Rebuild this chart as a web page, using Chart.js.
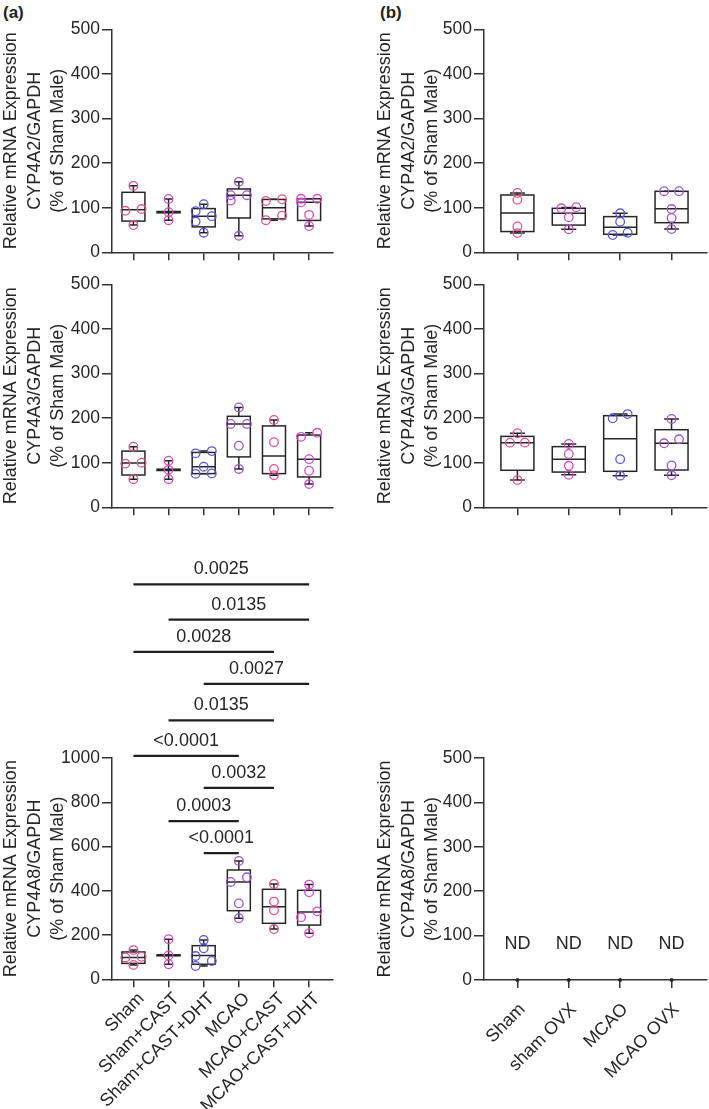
<!DOCTYPE html>
<html>
<head>
<meta charset="utf-8">
<script src="https://cdn.jsdelivr.net/npm/chart.js@4.4.0/dist/chart.umd.min.js"></script>
<style>
  body { margin: 0; background: #fff; width: 709px; height: 1109px; position: relative; overflow: hidden; font-family: 'Liberation Sans', Arial, sans-serif; }
  .panel { position: absolute; }
  .tag { position: absolute; font-weight: bold; font-size: 17px; color: #222; }
</style>
</head>
<body>
<div class="tag" style="left:3px;top:3px">(a)</div>
<div class="tag" style="left:380px;top:3px">(b)</div>

<canvas class="panel" id="a1" width="340" height="270" style="left:0;top:0"></canvas>
<canvas class="panel" id="a2" width="340" height="262" style="left:0;top:262px"></canvas>
<canvas class="panel" id="a3" width="340" height="569" style="left:0;top:540px"></canvas>
<canvas class="panel" id="b1" width="335" height="270" style="left:374px;top:0"></canvas>
<canvas class="panel" id="b2" width="335" height="262" style="left:374px;top:262px"></canvas>
<canvas class="panel" id="b3" width="335" height="569" style="left:374px;top:540px"></canvas>

<script>
// Groups and axis ticks
const groupsA = ['Sham', 'Sham+CAST', 'Sham+CAST+DHT', 'MCAO', 'MCAO+CAST', 'MCAO+CAST+DHT'];
const groupsB = ['Sham', 'sham OVX', 'MCAO', 'MCAO OVX'];
const ticks500 = [0, 100, 200, 300, 400, 500];
const ticks1000 = [0, 200, 400, 600, 800, 1000];

const colorsA = ['#e4508f', '#d24bc4', '#5656dc', '#a052d2', '#e4508f', '#d44ccc'];
const colorsB = ['#e4508f', '#d24bc4', '#5656dc', '#a052d2'];

// Box values per group: [min, q1, median, q3, max]
const a1Boxes = [[61, 70, 95.5, 134.5, 149], [72, 88.5, 90, 91.5, 119.5], [44, 57, 81, 98, 108],
                 [37, 77, 128, 142, 158], [72, 75, 100, 118.5, 119], [59, 71.5, 112, 120, 120]];
const a1Points = [[149, 97, 93, 61], [119.5, 90, 72], [108, 92, 81, 69, 44],
                  [158, 128, 128, 116, 37], [119, 115, 82, 72], [120, 120, 112, 84, 59]];

const a2Boxes = [[63, 72.4, 99.3, 126, 136], [63, 82.5, 84, 85.5, 104.5], [75, 75.5, 91, 123, 126],
                 [86, 113, 187, 204, 224], [72, 75.5, 115, 182.5, 196], [52, 68, 108, 162, 167]];
const a2Points = [[136, 100, 98, 63], [104.5, 84, 63], [126, 121, 91, 76, 75],
                  [224, 187, 187, 138, 86], [196, 146, 86, 72], [167, 158, 108, 82, 52]];

const a3Boxes = [[65, 72, 99, 123.5, 132], [68, 106, 108.5, 111, 181], [60, 68, 107, 152, 178],
                 [276, 310, 440, 494, 535], [227, 253, 328, 406.7, 431], [208, 245, 304, 402, 428]];
const a3Points = [[132, 102, 99, 65], [181, 108, 68], [178, 140, 105, 83, 60],
                  [535, 461, 440, 343, 276], [431, 351, 312, 227], [428, 393, 307, 280, 208]];

const b1Boxes = [[43, 46.5, 88, 128.5, 133], [51.5, 61, 87.4, 98.6, 100.5], [38.8, 40.4, 56, 80, 87.4], [52, 66.4, 97.8, 136.7, 137]];
const b1Points = [[133, 118, 58, 43], [101, 98.6, 78.5, 51.5], [87.4, 68.6, 44, 38.8], [137, 137, 97, 77, 52]];

const b2Boxes = [[61, 83, 145, 159, 166], [73, 79, 107.6, 136, 142], [71, 80.7, 153.8, 205.4, 209], [71.7, 83.6, 143.5, 174, 198]];
const b2Points = [[166, 145, 145, 61], [142, 119.5, 93, 73], [209, 199.5, 108, 71], [198, 152.5, 143.5, 94, 71.7]];

const b3Zero = [0, 0, 0, 0];
const b3Labels = ['ND', 'ND', 'ND', 'ND'];

// Significance bars of the CYP4A8 panel
const sigPairs = [[0, 5], [1, 5], [0, 4], [2, 5], [1, 4], [0, 3], [2, 4], [1, 3], [2, 3]];
const sigLabels = ['0.0025', '0.0135', '0.0028', '0.0027', '0.0135', '<0.0001', '0.0032', '0.0003', '<0.0001'];
const sigLevels = [1785, 1625, 1480, 1335, 1170, 1010, 865, 715, 570];

const FONT = "'Liberation Sans', Arial, sans-serif";
const INK = '#262626';
Chart.defaults.font.family = FONT;
Chart.defaults.color = INK;

// spread overlapping points sideways, like Prism does
function spread(values, index, near, step) {
    const placed = [];
    values.slice().sort((p, q) => p - q).forEach(v => {
        const prev = placed[placed.length - 1];
        let side = 0;
        if (prev && v - prev.y < near) {
            if (prev.side === 0) prev.side = -1;
            side = -prev.side;
        }
        placed.push({ y: v, side: side });
    });
    return placed.map(p => ({ x: index + p.side * step, y: p.y }));
}

const boxPlot = {
    id: 'boxPlot',
    beforeDatasetsDraw(chart, args, opts) {
        const ctx = chart.ctx, x = chart.scales.x, y = chart.scales.y;
        ctx.save();
        ctx.strokeStyle = INK;
        ctx.lineWidth = 1.5;
        (opts.boxes || []).forEach((b, i) => {
            const cx = x.getPixelForValue(i);
            const [lo, q1, med, q3, hi] = b.map(v => y.getPixelForValue(v));
            const w = opts.half, c = opts.cap;
            ctx.strokeRect(cx - w, q3, 2 * w, q1 - q3);
            ctx.beginPath();
            ctx.moveTo(cx - w, med); ctx.lineTo(cx + w, med);
            ctx.moveTo(cx, q3); ctx.lineTo(cx, hi);
            ctx.moveTo(cx - c, hi); ctx.lineTo(cx + c, hi);
            ctx.moveTo(cx, q1); ctx.lineTo(cx, lo);
            ctx.moveTo(cx - c, lo); ctx.lineTo(cx + c, lo);
            ctx.stroke();
        });
        ctx.restore();
    }
};

const notes = {
    id: 'notes',
    afterDraw(chart, args, opts) {
        const ctx = chart.ctx, x = chart.scales.x, y = chart.scales.y;
        ctx.save();
        ctx.fillStyle = INK;
        ctx.strokeStyle = '#1e1e1e';
        ctx.font = '18px ' + FONT;
        ctx.textAlign = 'center';
        (opts.pairs || []).forEach((pr, k) => {
            const x1 = x.getPixelForValue(pr[0]), x2 = x.getPixelForValue(pr[1]);
            const yy = y.getPixelForValue(opts.levels[k]);
            ctx.lineWidth = 2.3;
            ctx.beginPath();
            ctx.moveTo(x1, yy); ctx.lineTo(x2, yy);
            ctx.stroke();
            ctx.textBaseline = 'alphabetic';
            ctx.fillText(opts.labels[k], (x1 + x2) / 2, yy - 10);
        });
        ctx.font = '18px ' + FONT;
        ctx.textBaseline = 'middle';
        (opts.nd || []).forEach((t, i) => {
            ctx.fillText(t, x.getPixelForValue(i), y.getPixelForValue(opts.ndAt));
        });
        ctx.restore();
    }
};

function makePanel(id, o) {
    const datasets = o.points.map((vals, i) => ({
        data: spread(vals, i, o.near, o.step),
        pointRadius: 4.3,
        pointHoverRadius: 4.3,
        pointBorderWidth: 1.3,
        pointBorderColor: o.colors[i],
        pointBackgroundColor: 'rgba(0,0,0,0)'
    }));
    if (o.zero) {
        datasets.push({
            data: o.zero.map((v, i) => ({ x: i, y: v })),
            pointRadius: 1.6,
            pointBackgroundColor: INK,
            pointBorderColor: INK,
            clip: false
        });
    }
    new Chart(document.getElementById(id), {
        type: 'scatter',
        data: { datasets: datasets },
        plugins: [boxPlot, notes],
        options: {
            responsive: false,
            animation: false,
            layout: { autoPadding: false, padding: { top: o.top, right: o.right, left: 0, bottom: 0 } },
            plugins: {
                legend: { display: false },
                tooltip: { enabled: false },
                boxPlot: { boxes: o.boxes, half: o.half, cap: o.cap },
                notes: o.notes || {}
            },
            scales: {
                x: {
                    type: 'linear',
                    min: o.xMin,
                    max: o.xMax,
                    afterBuildTicks: s => { s.ticks = o.groups.map((g, i) => ({ value: i })); },
                    afterFit: s => { s.height = o.xHeight; s.paddingLeft = 0; s.paddingRight = 0; },
                    border: { color: '#333', width: 1.5 },
                    grid: { drawOnChartArea: false, tickLength: 8, color: '#333', lineWidth: 1.5 },
                    ticks: {
                        display: o.showLabels,
                        callback: v => o.groups[v],
                        autoSkip: false,
                        minRotation: 45,
                        maxRotation: 45,
                        padding: o.labelGap || 2,
                        labelOffset: o.labelShift || 0,
                        color: INK,
                        font: { size: 18 }
                    }
                },
                y: {
                    min: 0,
                    max: o.yTicks[o.yTicks.length - 1],
                    afterBuildTicks: s => { s.ticks = o.yTicks.map(v => ({ value: v })); },
                    afterFit: s => { s.width = o.axisLeft; s.paddingTop = 0; s.paddingBottom = 0; },
                    border: { color: '#333', width: 1.5 },
                    grid: { drawOnChartArea: false, tickLength: 10, color: '#333', lineWidth: 1.5 },
                    ticks: { padding: 2, color: INK, font: { size: 17.5 }, callback: v => String(v) },
                    title: {
                        display: true,
                        text: ['Relative mRNA Expression', o.gene + '/GAPDH', '(% of Sham Male)'],
                        color: INK,
                        padding: { top: 0, bottom: 0 },
                        font: { size: 18, lineHeight: 1.28 }
                    }
                }
            }
        }
    });
}

const panelA = { groups: groupsA, colors: colorsA, xMin: -0.61, xMax: 5.68, axisLeft: 112, right: 7, step: 0.23, half: 11.5, cap: 4 };
const panelB = { groups: groupsB, colors: colorsB, xMin: -0.65, xMax: 3.69, axisLeft: 110, right: 2, step: 0.145, half: 16.5, cap: 7.5 };

makePanel('a1', Object.assign({}, panelA, { gene: 'CYP4A2', boxes: a1Boxes, points: a1Points, yTicks: ticks500,
    top: 29.3, xHeight: 17.7, showLabels: false, near: 14 }));
makePanel('a2', Object.assign({}, panelA, { gene: 'CYP4A3', boxes: a2Boxes, points: a2Points, yTicks: ticks500,
    top: 22.3, xHeight: 16.7, showLabels: false, near: 14 }));
makePanel('a3', Object.assign({}, panelA, { gene: 'CYP4A8', boxes: a3Boxes, points: a3Points, yTicks: ticks1000,
    top: 218, xHeight: 129.7, showLabels: true, labelGap: 1, labelShift: 8, near: 28.5,
    notes: { pairs: sigPairs, labels: sigLabels, levels: sigLevels } }));

makePanel('b1', Object.assign({}, panelB, { gene: 'CYP4A2', boxes: b1Boxes, points: b1Points, yTicks: ticks500,
    top: 29.3, xHeight: 17.7, showLabels: false, near: 14 }));
makePanel('b2', Object.assign({}, panelB, { gene: 'CYP4A3', boxes: b2Boxes, points: b2Points, yTicks: ticks500,
    top: 22.3, xHeight: 16.7, showLabels: false, near: 14 }));
makePanel('b3', Object.assign({}, panelB, { gene: 'CYP4A8', boxes: [], points: [], yTicks: ticks500, zero: b3Zero,
    top: 218, xHeight: 129, showLabels: true, labelGap: 11, labelShift: 5, near: 14,
    notes: { nd: b3Labels, ndAt: 81 } }));
</script>
</body>
</html>
